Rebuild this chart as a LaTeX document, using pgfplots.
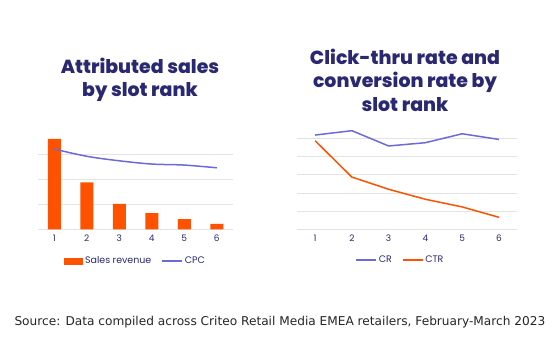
\documentclass[border=0pt]{standalone}
\usepackage{pgfplots}
\pgfplotsset{compat=1.18}
\usepackage{fontspec}
\setmainfont{Poppins}
\newfontfamily\titlefont{Poppins ExtraBold}
\newfontfamily\srcfont{DejaVu Sans}
\definecolor{navy}{HTML}{2A2870}
\definecolor{orng}{HTML}{FF5200}
\definecolor{peri}{HTML}{6B6BD8}
\definecolor{gridc}{HTML}{E3E3E3}
\pgfplotsset{
  common/.style={
    scale only axis,
    axis line style={draw=none},
    ymajorgrids,
    grid style={gridc, line width=0.8pt},
    xmin=0.5, xmax=6.5, ymin=0,
    xtick={1,2,3,4,5,6},
    yticklabels={},
    major tick length=0pt,
    /pgf/number format/assume math mode=true,
    tick label style={font=\fontsize{9}{10}\selectfont, text=navy},
    xticklabel style={yshift=-2bp},
    legend columns=2,
    legend style={draw=none, fill=none, font=\fontsize{9.5}{11}\selectfont, text=navy,
      /tikz/every even column/.append style={column sep=8bp}},
    legend image code/.code={\draw[#1, line width=1.5pt] (0bp,0bp) -- (20bp,0bp);},
    clip=false,
  }
}
\begin{document}
\begin{tikzpicture}
\path[fill=white] (0,0) rectangle (557bp,-350bp);
% Left chart
\begin{axis}[common,
  at={(38bp,-229.3bp)}, anchor=south west,
  width=195bp, height=92.5bp, ymax=3.7,
  ytick={0,1,2,3},
  legend style={at={(0.5,-0.343)}, anchor=center},
]
\addplot[ybar, bar width=13bp, bar shift=0pt, fill=orng, draw=none,
  legend image code/.code={\fill[orng] (0bp,-3.5bp) rectangle (19bp,3.5bp);}]
  coordinates {(1,3.62) (2,1.88) (3,1.02) (4,0.65) (5,0.41) (6,0.22)};
\addlegendentry{Sales revenue}
\addplot[peri, line width=1.5pt, smooth, mark=none]
  coordinates {(1,3.21) (2,2.92) (3,2.74) (4,2.61) (5,2.57) (6,2.46)};
\addlegendentry{CPC}
\end{axis}
% Right chart
\begin{axis}[common,
  at={(296.7bp,-229.3bp)}, anchor=south west,
  width=220.6bp, height=101.9bp, ymax=5.6,
  ytick={0,1,2,3,4,5},
  legend style={at={(0.47,-0.30)}, anchor=center},
]
\addplot[peri, line width=1.5pt, mark=none]
  coordinates {(1,5.18) (2,5.42) (3,4.58) (4,4.76) (5,5.25) (6,4.94)};
\addlegendentry{CR}
\addplot[orng, line width=1.5pt, mark=none]
  coordinates {(1,4.87) (2,2.87) (3,2.2) (4,1.65) (5,1.23) (6,0.66)};
\addlegendentry{CTR}
\end{axis}
% Titles
\node[align=center, text=navy, font=\titlefont\fontsize{19}{23.5}\selectfont] at (140bp,-80bp)
  {Attributed sales\\by slot rank};
\node[align=center, text=navy, font=\titlefont\fontsize{19}{23.5}\selectfont] at (405bp,-80bp)
  {Click-thru rate and\\conversion rate by\\slot rank};
% Source
\node[anchor=west, font=\srcfont\fontsize{12.2}{14}\selectfont, text=black!85] at (11bp,-322bp)
  {Source: Data compiled across Criteo Retail Media EMEA retailers, February-March 2023};
\end{tikzpicture}
\end{document}
